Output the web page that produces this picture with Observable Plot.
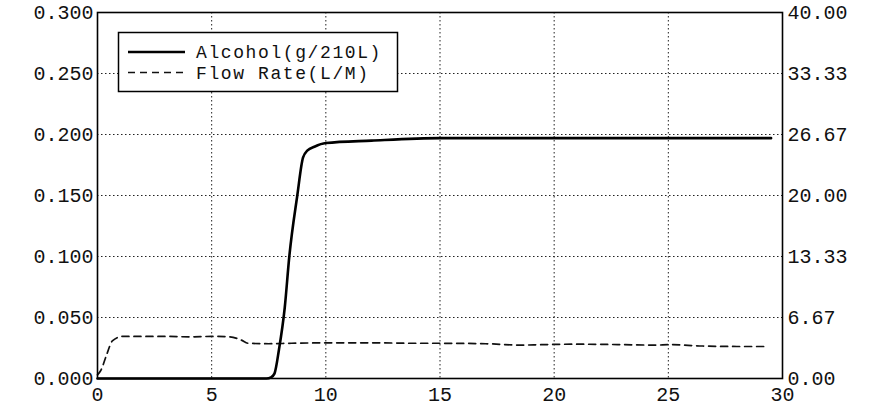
<!DOCTYPE html>
<html>
<head>
<meta charset="utf-8">
<script src="https://cdn.jsdelivr.net/npm/d3@7"></script>
<script src="https://cdn.jsdelivr.net/npm/@observablehq/plot@0.6"></script>
<style>
  html, body { margin: 0; padding: 0; background: #fff; }
  #chart svg { display: block; }
</style>
</head>
<body>
<div id="chart"></div>
<script>
// Alcohol concentration (g/210L) vs time (s)
const alcTime = [0, 7.4, 7.6, 7.75, 7.95, 8.2, 8.4, 8.75, 9.0, 9.2, 9.5, 10, 12, 15, 20, 25, 29.5];
const alcValue = [0, 0, 0.001, 0.004, 0.024, 0.058, 0.1, 0.15, 0.181, 0.187, 0.19, 0.193, 0.195, 0.197, 0.197, 0.197, 0.197];

// Flow rate (L/M) vs time (s)
const flowTime = [0, 0.15, 0.4, 0.65, 1.1, 2, 3, 4, 5, 5.8, 6.3, 6.6, 7.5, 8.5, 10, 12, 14, 15, 17, 18.5, 19.5, 21, 23, 24.5, 25, 26.5, 28, 29.3];
const flowValue = [0.4, 0.9, 2.6, 4.1, 4.6, 4.6, 4.6, 4.55, 4.6, 4.55, 4.2, 3.85, 3.8, 3.85, 3.9, 3.9, 3.85, 3.85, 3.8, 3.65, 3.7, 3.75, 3.7, 3.65, 3.7, 3.55, 3.5, 3.5];

// Axis ticks
const xTicks = [0, 5, 10, 15, 20, 25, 30];
const xGrid = [5, 10, 15, 20, 25];
const leftTicks = [0, 0.05, 0.1, 0.15, 0.2, 0.25, 0.3];
const yGrid = [0.05, 0.1, 0.15, 0.2, 0.25];
const leftMax = 0.3;
const rightMax = 40;

const seriesNames = ["Alcohol(g/210L)", "Flow Rate(L/M)"];

const alcData = alcTime.map((t, i) => ({t, v: alcValue[i]}));
const flowData = flowTime.map((t, i) => ({t, v: flowValue[i] * leftMax / rightMax}));

const font = "'Liberation Mono', 'DejaVu Sans Mono', monospace";

const chart = Plot.plot({
  width: 869,
  height: 415,
  marginLeft: 97,
  marginRight: 87,
  marginTop: 12,
  marginBottom: 37,
  style: {fontFamily: font, fontSize: "20px", color: "#111", background: "#fff"},
  x: {domain: [0, 30]},
  y: {domain: [0, leftMax]},
  marks: [
    Plot.ruleX(xGrid, {stroke: "#222", strokeWidth: 1, strokeDasharray: "1.5,2.5"}),
    Plot.ruleY(yGrid, {stroke: "#222", strokeWidth: 1, strokeDasharray: "1.5,2.5"}),
    Plot.line(flowData, {x: "t", y: "v", stroke: "#111", strokeWidth: 1.7, strokeDasharray: "7,5", curve: "monotone-x"}),
    Plot.line(alcData, {x: "t", y: "v", stroke: "#000", strokeWidth: 2.6, curve: "monotone-x"}),
    Plot.frame({stroke: "#000", strokeWidth: 1.6}),
    Plot.axisX(xTicks, {tickSize: 0, tickPadding: 8, label: null, fontSize: 20}),
    Plot.axisY(leftTicks, {anchor: "left", tickSize: 0, tickPadding: 4, label: null, tickFormat: d3.format(".3f"), fontSize: 20}),
    Plot.axisY(leftTicks, {anchor: "right", tickSize: 0, tickPadding: 5, label: null, tickFormat: d => (d * rightMax / leftMax).toFixed(2), fontSize: 20})
  ]
});

document.getElementById("chart").appendChild(chart);

// Legend box drawn inside the plot area
const svg = d3.select(chart);
const g = svg.append("g")
  .attr("font-family", font)
  .attr("font-size", 18)
  .attr("letter-spacing", "1.6px")
  .attr("text-anchor", "start")
  .attr("fill", "#111");
g.append("rect").attr("x", 118.5).attr("y", 32.5).attr("width", 279).attr("height", 59)
  .attr("fill", "#fff").attr("stroke", "#000").attr("stroke-width", 1.5);
g.append("line").attr("x1", 128).attr("x2", 185).attr("y1", 52).attr("y2", 52)
  .attr("stroke", "#000").attr("stroke-width", 2.4);
g.append("line").attr("x1", 128).attr("x2", 185).attr("y1", 72.5).attr("y2", 72.5)
  .attr("stroke", "#111").attr("stroke-width", 1.6).attr("stroke-dasharray", "7,5");
g.append("text").attr("x", 196).attr("y", 52).attr("dy", "0.35em").text(seriesNames[0]);
g.append("text").attr("x", 196).attr("y", 73).attr("dy", "0.35em").text(seriesNames[1]);
</script>
</body>
</html>
